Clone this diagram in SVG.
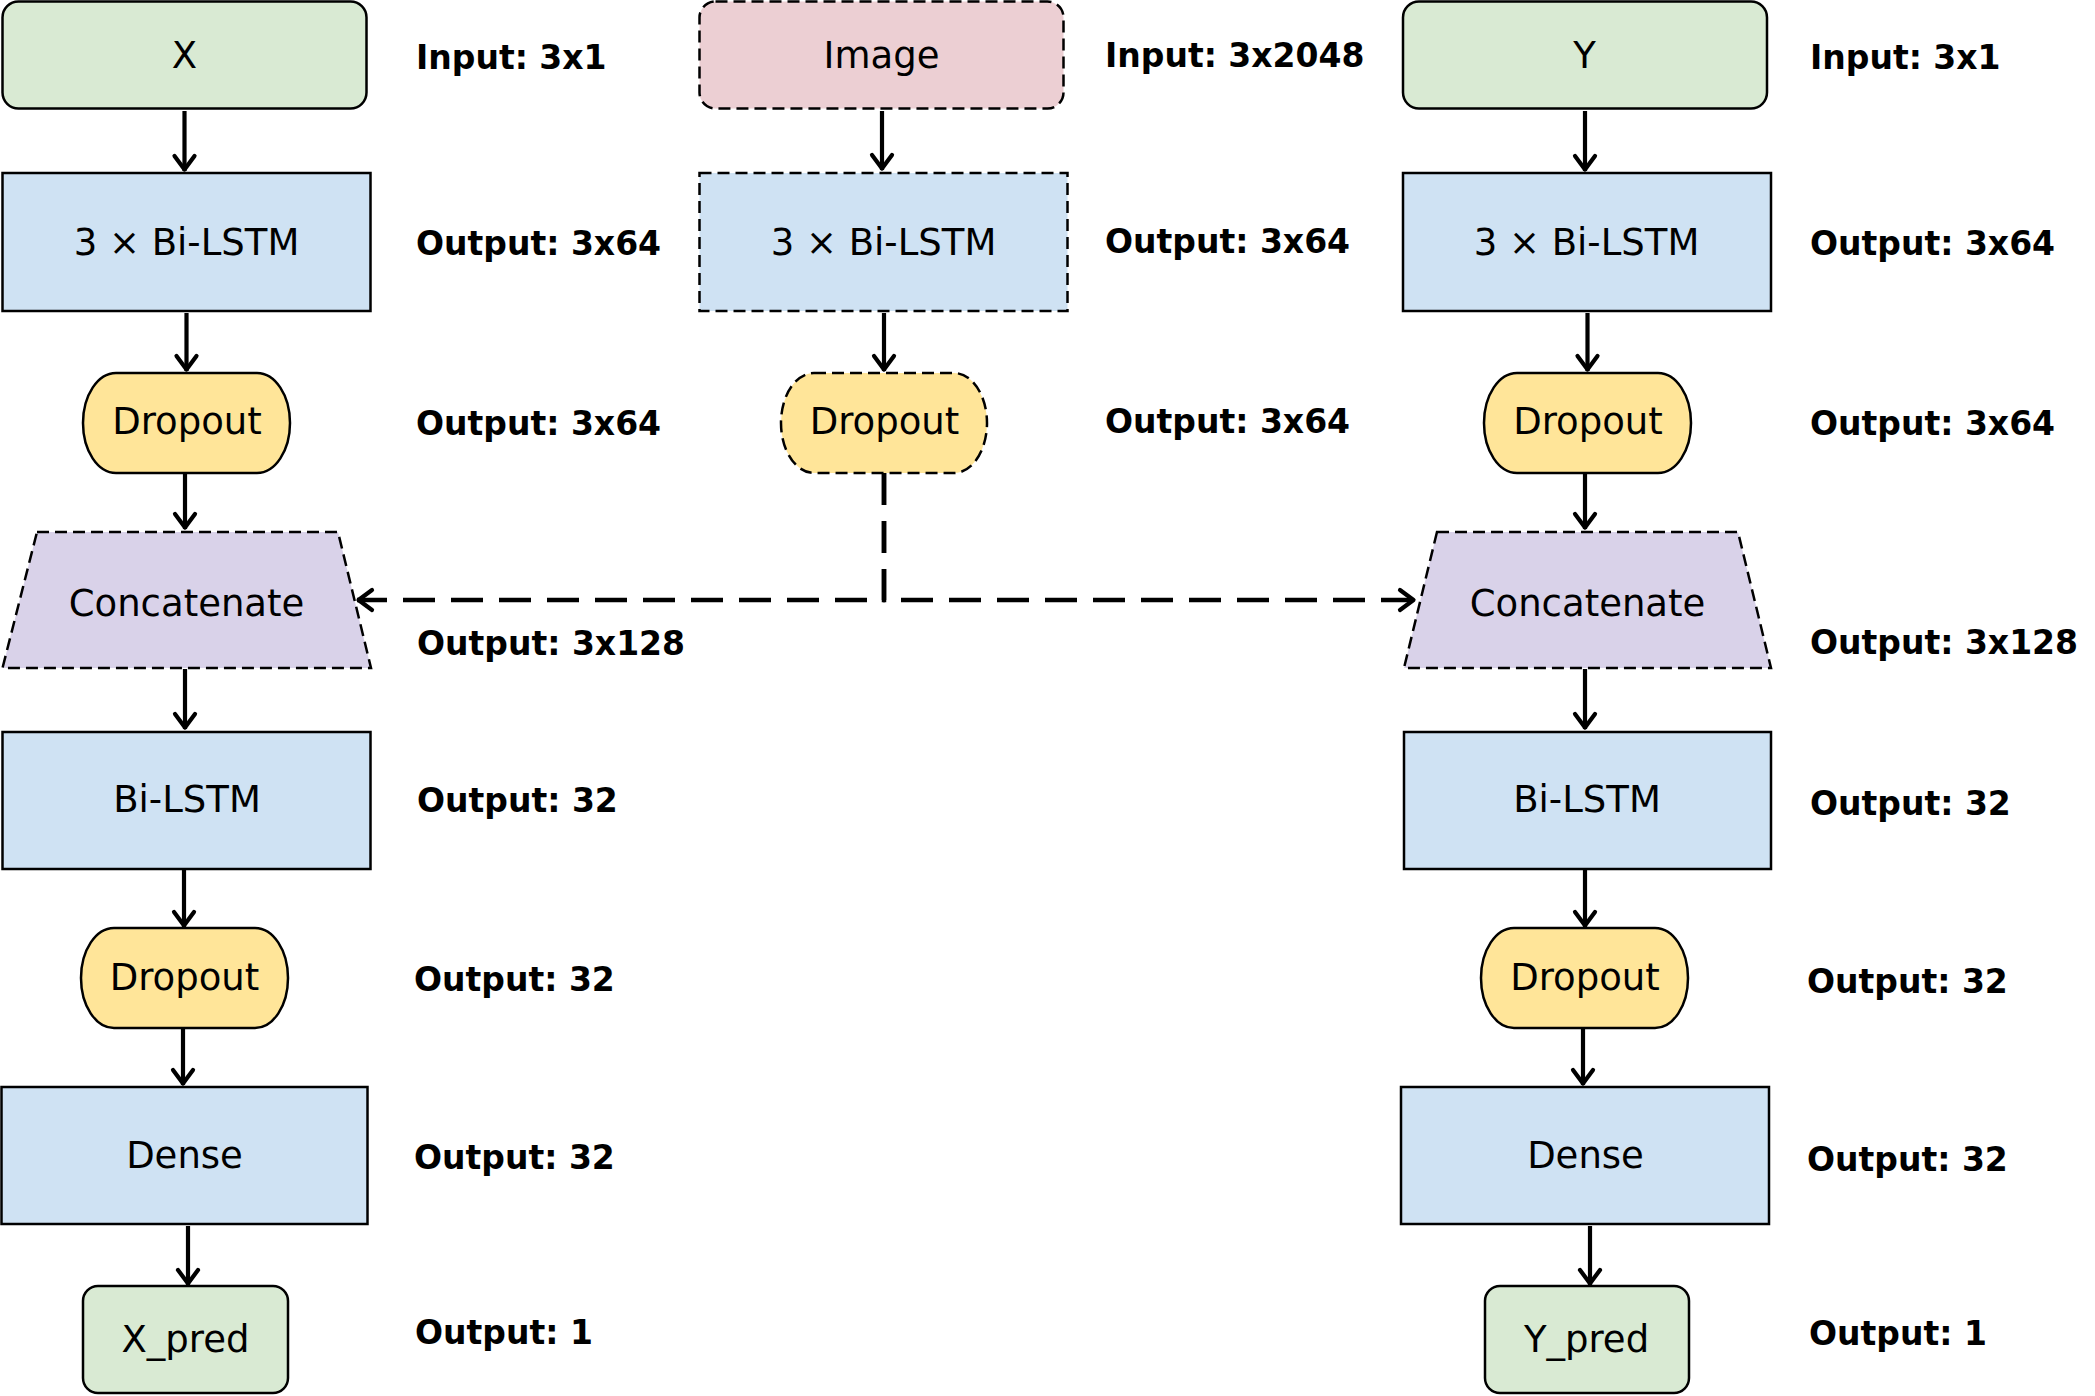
<svg xmlns="http://www.w3.org/2000/svg" width="2095" height="1396" viewBox="0 0 2095 1396">
<style>
.n{stroke:#000;stroke-width:2.5}
.d{stroke-dasharray:12 6}
.g{fill:#d9ead3}.b{fill:#cfe2f3}.y{fill:#ffe599}.p{fill:#d9d2e9}.k{fill:#eccfd3}
.t{font-family:"DejaVu Sans",sans-serif;font-size:37px;text-anchor:middle;fill:#000}
.l{font-family:"DejaVu Sans",sans-serif;font-size:33px;font-weight:bold;fill:#000}
.c{fill:none;stroke:#000;stroke-width:4.2}
.cd{fill:none;stroke:#000;stroke-width:4.5;stroke-dasharray:32 16}
</style>
<defs>
<marker id="a" markerUnits="userSpaceOnUse" markerWidth="30" markerHeight="30" viewBox="-20 -15 30 30" refX="0" refY="0" orient="auto">
<path d="M-15,-10 L-1.5,0 L-15,10" fill="none" stroke="#000" stroke-width="4.2" stroke-linecap="round" stroke-linejoin="round"/>
</marker>
</defs>
<rect width="2095" height="1396" fill="#fff"/>
<g id="connectors">
<path class="c" d="M184.5,111V171" marker-end="url(#a)"/>
<path class="c" d="M186.5,313V371" marker-end="url(#a)"/>
<path class="c" d="M185,473V529" marker-end="url(#a)"/>
<path class="c" d="M185,669V729" marker-end="url(#a)"/>
<path class="c" d="M184,869V927" marker-end="url(#a)"/>
<path class="c" d="M183,1027V1085" marker-end="url(#a)"/>
<path class="c" d="M188,1226V1285" marker-end="url(#a)"/>
<path class="c" d="M882,111V170" marker-end="url(#a)"/>
<path class="c" d="M884,313V371" marker-end="url(#a)"/>
<path class="cd" d="M884,473V600H357" marker-end="url(#a)"/>
<path class="cd" d="M884,473V600H1415" marker-end="url(#a)"/>
<path class="c" d="M1585,111V171" marker-end="url(#a)"/>
<path class="c" d="M1587.5,313V371" marker-end="url(#a)"/>
<path class="c" d="M1585,470V529" marker-end="url(#a)"/>
<path class="c" d="M1585,669V729" marker-end="url(#a)"/>
<path class="c" d="M1585,869V927" marker-end="url(#a)"/>
<path class="c" d="M1583,1027V1085" marker-end="url(#a)"/>
<path class="c" d="M1590,1226V1285" marker-end="url(#a)"/>
</g>
<g id="x"><rect class="n g" x="2.5" y="1.5" width="364" height="107" rx="16"/><text class="t" x="184.5" y="68">X</text></g>
<g id="x-bilstm3"><rect class="n b" x="2.5" y="173" width="368" height="138"/><text class="t" x="186.5" y="255">3 × Bi-LSTM</text></g>
<g id="x-dropout1"><rect class="n y" x="83" y="373" width="207" height="100" rx="33" ry="50"/><text class="t" x="187" y="434">Dropout</text></g>
<g id="x-concat"><polygon class="n p d" points="37,532 338,532 371,668 2.5,668"/><text class="t" x="186.5" y="616">Concatenate</text></g>
<g id="x-bilstm"><rect class="n b" x="2.5" y="732" width="368" height="137"/><text class="t" x="187" y="812">Bi-LSTM</text></g>
<g id="x-dropout2"><rect class="n y" x="81" y="928" width="207" height="100" rx="33" ry="50"/><text class="t" x="184.5" y="990">Dropout</text></g>
<g id="x-dense"><rect class="n b" x="1.5" y="1087" width="366" height="137"/><text class="t" x="184.5" y="1168">Dense</text></g>
<g id="x-pred"><rect class="n g" x="83" y="1286" width="205" height="107" rx="15"/><text class="t" x="185.5" y="1352">X_pred</text></g>
<g id="image"><rect class="n k d" x="699.5" y="1.5" width="364" height="107" rx="16"/><text class="t" x="881.5" y="68">Image</text></g>
<g id="img-bilstm3"><rect class="n b d" x="699.5" y="173" width="368" height="138"/><text class="t" x="883.5" y="255">3 × Bi-LSTM</text></g>
<g id="img-dropout"><rect class="n y d" x="781" y="373" width="206" height="100" rx="33" ry="50"/><text class="t" x="884.5" y="434">Dropout</text></g>
<g id="y"><rect class="n g" x="1403" y="1.5" width="364" height="107" rx="16"/><text class="t" x="1584.5" y="68">Y</text></g>
<g id="y-bilstm3"><rect class="n b" x="1403" y="173" width="368" height="138"/><text class="t" x="1586.5" y="255">3 × Bi-LSTM</text></g>
<g id="y-dropout1"><rect class="n y" x="1484" y="373" width="207" height="100" rx="33" ry="50"/><text class="t" x="1588" y="434">Dropout</text></g>
<g id="y-concat"><polygon class="n p d" points="1437,532 1738,532 1771,668 1404,668"/><text class="t" x="1587.5" y="616">Concatenate</text></g>
<g id="y-bilstm"><rect class="n b" x="1404" y="732" width="367" height="137"/><text class="t" x="1587" y="812">Bi-LSTM</text></g>
<g id="y-dropout2"><rect class="n y" x="1481" y="928" width="207" height="100" rx="33" ry="50"/><text class="t" x="1585" y="990">Dropout</text></g>
<g id="y-dense"><rect class="n b" x="1401" y="1087" width="368" height="137"/><text class="t" x="1585.5" y="1168">Dense</text></g>
<g id="y-pred"><rect class="n g" x="1485" y="1286" width="204" height="107" rx="15"/><text class="t" x="1586.5" y="1352">Y_pred</text></g>
<g id="labels">
<text class="l" x="416" y="69">Input: 3x1</text>
<text class="l" x="416" y="255">Output: 3x64</text>
<text class="l" x="416" y="435">Output: 3x64</text>
<text class="l" x="417" y="655">Output: 3x128</text>
<text class="l" x="417" y="812">Output: 32</text>
<text class="l" x="414" y="991">Output: 32</text>
<text class="l" x="414" y="1169">Output: 32</text>
<text class="l" x="415" y="1344">Output: 1</text>
<text class="l" x="1105" y="67">Input: 3x2048</text>
<text class="l" x="1105" y="253">Output: 3x64</text>
<text class="l" x="1105" y="433">Output: 3x64</text>
<text class="l" x="1810" y="69">Input: 3x1</text>
<text class="l" x="1810" y="255">Output: 3x64</text>
<text class="l" x="1810" y="435">Output: 3x64</text>
<text class="l" x="1810" y="654">Output: 3x128</text>
<text class="l" x="1810" y="815">Output: 32</text>
<text class="l" x="1807" y="993">Output: 32</text>
<text class="l" x="1807" y="1171">Output: 32</text>
<text class="l" x="1809" y="1345">Output: 1</text>
</g>
</svg>
